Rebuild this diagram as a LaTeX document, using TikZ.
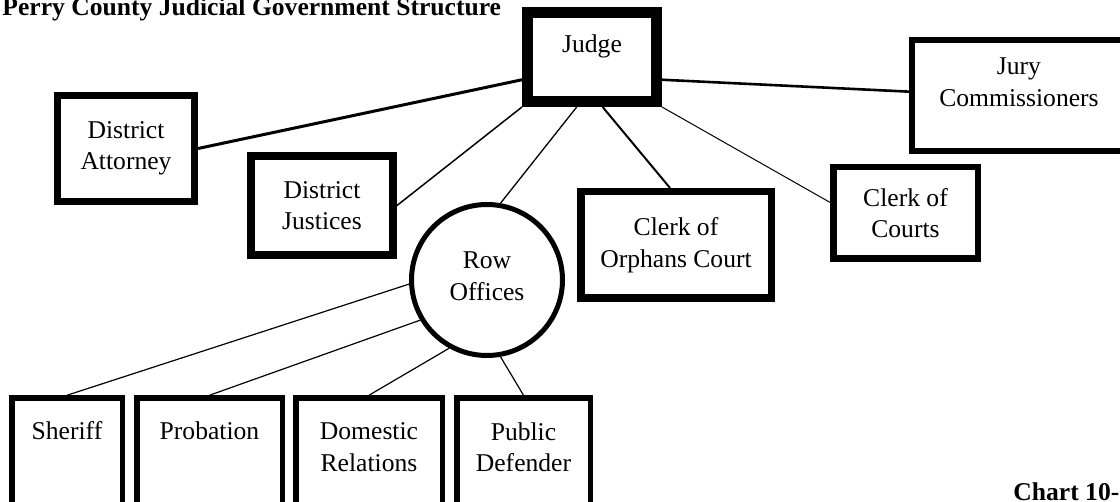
\documentclass[tikz,border=0pt]{standalone}
\usepackage{fontspec}
\setmainfont{Liberation Serif}
\begin{document}
\begin{tikzpicture}[x=0.5pt, y=-0.5pt,
    box/.style={draw, rectangle, inner sep=0pt, line width=3.5pt, align=center,
      font=\fontsize{12.8}{15.75}\selectfont},
    ring/.style={draw, circle, inner sep=0pt, line width=2.5pt, align=center,
      font=\fontsize{12.8}{15.75}\selectfont},
    lbl/.style={inner sep=0pt, align=center, font=\fontsize{12.8}{15.75}\selectfont},
    head/.style={inner sep=0pt, font=\fontsize{12.8}{15}\selectfont\bfseries}]
  \useasboundingbox (0,0) rectangle (1120,502);
  \clip (0,0) rectangle (1120,502);

  % Titles
  \node[head, anchor=base west] (title) at (2,16) {Perry County Judicial Government Structure};
  \node[head, anchor=base west] (chart) at (1013,501) {Chart 10-};

  % Judge and the offices under it
  \node[box, line width=5.5pt, minimum width=64.5pt, minimum height=44.5pt] (judge) at (592,57) {};
  \node[lbl] (judge-t) at (592,46) {Judge};
  \node[box, minimum width=68.5pt, minimum height=53pt] (da) at (126,148.5) {District\\Attorney};
  \node[box, line width=4pt, minimum width=71pt, minimum height=49.5pt] (dj) at (322,205.5) {District\\Justices};
  \node[ring, minimum size=75.5pt] (row) at (487,280) {};
  \node[lbl] (row-t) at (487,276) {Row\\Offices};
  \node[box, line width=3.75pt, minimum width=95.25pt, minimum height=53.25pt] (coo) at (676,245) {Clerk of\\Orphans Court};
  \node[box, line width=3.25pt, minimum width=72.25pt, minimum height=45.75pt] (coc) at (905.5,213) {Clerk of\\Courts};
  \node[box, line width=3pt, minimum width=107pt, minimum height=55.5pt] (jury) at (1019,95.5) {};
  \node[lbl] (jury-t) at (1019,82) {Jury\\Commissioners};

  % Row offices
  \foreach \nm/\cx/\bw/\txt/\ty in {sheriff/67/55.25/Sheriff/431,
      probation/209.5/72.75/Probation/431,
      domrel/369/73.25/Domestic\\Relations/447,
      pubdef/523.5/66.75/Public\\Defender/447} {
    \node[box, line width=2.75pt, minimum width=\bw pt, minimum height=71pt] (\nm) at (\cx,469) {};
    \node[lbl] (\nm-t) at (\cx,\ty) {\txt};
  }

  % Connectors
  \draw[line width=1.5pt] (da.east) -- (judge.198);
  \draw[line width=1.3pt] (judge.342) -- (jury.178);
  \draw[line width=0.75pt] (dj.east) -- (judge.south west);
  \draw[line width=0.65pt] (judge.253) -- (row.80);
  \draw[line width=1pt] (judge.282) -- (coo.96);
  \draw[line width=0.5pt] (judge.south east) -- (coc.172);
  \draw[line width=0.6pt] (sheriff.north) -- (row.183);
  \draw[line width=0.6pt] (probation.north) -- (row.211);
  \draw[line width=0.6pt] (domrel.north) -- (row.241);
  \draw[line width=0.6pt] (pubdef.north) -- (row.280);
\end{tikzpicture}
\end{document}
